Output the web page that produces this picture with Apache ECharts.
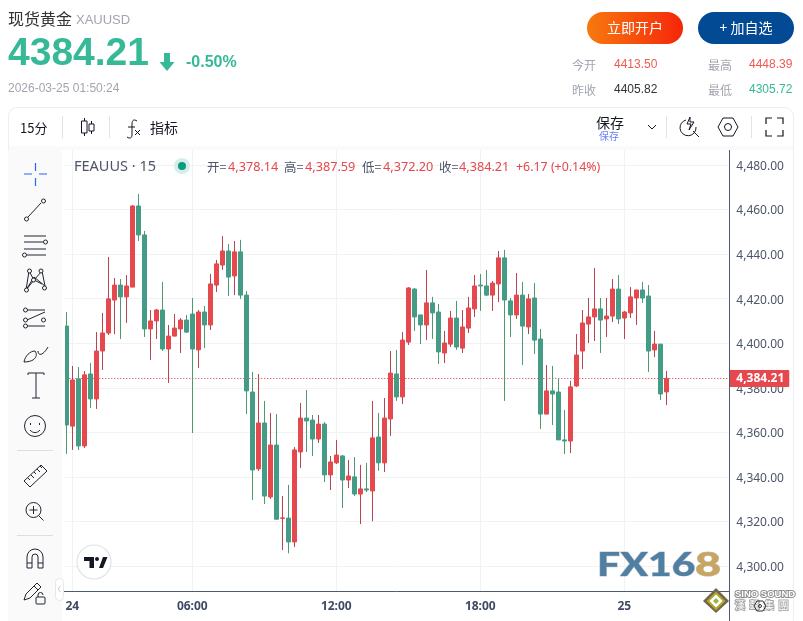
<!DOCTYPE html>
<html><head><meta charset="utf-8">
<style>html,body{margin:0;padding:0;background:#fff}#c{width:803px;height:621px}</style>
<script src="https://cdn.jsdelivr.net/npm/echarts@6/dist/echarts.min.js"></script>
</head><body><div id="c"></div>
<script>
const opens=[4407.7,4362.8,4384.0,4353.9,4386.2,4375.0,4396.5,4404.6,4419.4,4426.1,4420.8,4425.2,4461.6,4448.6,4406.4,4410.0,4414.9,4397.4,4403.2,4406.4,4410.4,4413.1,4397.0,4414.0,4408.2,4426.1,4435.1,4441.4,4430.2,4441.0,4421.6,4378.1,4343.6,4364.2,4331.0,4354.3,4321.4,4321.5,4310.8,4351.2,4366.4,4365.5,4357.0,4363.7,4340.9,4346.3,4349.4,4338.6,4340.0,4332.3,4334.6,4333.7,4357.9,4346.3,4366.0,4386.2,4375.9,4400.5,4424.3,4412.7,4408.2,4418.1,4414.0,4395.6,4399.6,4411.3,4397.8,4406.8,4415.4,4426.1,4425.7,4421.6,4426.6,4438.3,4419.0,4412.7,4421.6,4407.3,4420.3,4401.9,4368.2,4378.6,4378.1,4356.6,4356.1,4380.8,4396.5,4408.6,4411.8,4415.4,4410.9,4412.2,4424.3,4411.3,4413.6,4420.3,4423.9,4421.2,4397.0,4399.6,4378.14];
const closes=[4363.3,4383.5,4353.9,4385.8,4375.0,4396.5,4404.6,4419.9,4426.1,4420.8,4425.7,4461.6,4448.6,4406.4,4410.0,4414.9,4397.4,4403.2,4406.8,4410.4,4405.0,4397.4,4414.0,4408.2,4426.6,4435.6,4441.4,4429.7,4441.0,4421.6,4378.6,4343.1,4364.2,4331.4,4354.3,4321.0,4321.6,4310.8,4352.1,4366.4,4365.1,4357.0,4363.7,4340.9,4346.7,4349.8,4338.6,4340.4,4332.3,4334.6,4334.1,4357.5,4346.3,4366.4,4386.6,4375.9,4401.4,4424.8,4411.8,4408.2,4418.1,4413.6,4396.1,4400.1,4411.3,4398.3,4407.3,4415.8,4425.7,4425.7,4421.6,4427.0,4438.3,4419.4,4412.7,4421.6,4407.7,4419.9,4401.4,4368.2,4378.6,4377.2,4356.6,4356.1,4380.4,4394.7,4409.1,4411.8,4415.4,4410.4,4412.2,4424.3,4410.9,4414.0,4420.8,4423.9,4420.3,4396.5,4399.6,4377.2,4384.21];
const lows=[4350.3,4352.1,4352.1,4353.0,4370.9,4370.5,4388.0,4403.7,4404.1,4401.9,4409.1,4425.2,4445.9,4402.8,4392.5,4401.9,4396.5,4382.2,4403.2,4395.6,4404.6,4359.7,4388.9,4397.8,4405.9,4423.0,4432.9,4421.2,4421.6,4419.9,4368.2,4329.6,4342.7,4327.8,4330.1,4321.0,4307.2,4305.7,4308.5,4344.0,4351.2,4349.4,4355.2,4337.7,4334.1,4345.8,4326.0,4335.0,4331.4,4318.8,4333.2,4320.1,4342.7,4342.2,4358.4,4374.1,4372.7,4399.2,4405.5,4399.6,4401.4,4401.9,4390.7,4391.1,4398.3,4397.0,4395.6,4404.6,4411.8,4414.5,4421.2,4414.5,4418.5,4374.1,4402.8,4410.9,4390.2,4404.1,4395.2,4361.5,4368.2,4363.3,4356.6,4350.3,4350.7,4380.4,4388.4,4400.1,4401.0,4395.6,4402.8,4409.5,4408.6,4401.9,4411.3,4408.2,4418.1,4387.1,4393.8,4374.5,4372.20];
const highs=[4414.0,4389.8,4389.3,4387.5,4391.1,4405.0,4413.6,4438.7,4429.3,4428.8,4430.6,4462.0,4467.0,4450.4,4414.9,4415.4,4427.5,4408.2,4413.1,4411.3,4412.7,4420.3,4414.9,4416.7,4431.1,4437.4,4448.1,4444.5,4445.9,4446.4,4423.4,4387.1,4386.2,4374.1,4368.7,4368.2,4331.4,4336.4,4353.4,4373.2,4379.0,4367.8,4367.8,4364.6,4349.4,4356.6,4349.8,4347.6,4348.9,4345.4,4346.3,4374.1,4368.7,4375.4,4396.5,4397.0,4405.0,4425.2,4424.8,4412.7,4432.9,4420.8,4417.6,4405.5,4414.5,4419.0,4414.9,4420.8,4430.6,4431.1,4432.9,4427.9,4441.4,4441.9,4420.3,4431.5,4427.5,4422.1,4427.0,4406.4,4390.2,4389.8,4384.0,4370.0,4383.1,4404.1,4414.9,4420.3,4433.8,4420.3,4420.3,4428.8,4430.6,4414.5,4425.2,4423.9,4427.5,4426.1,4405.5,4399.6,4387.59];
const timeIndex=[1,21,45,69,93];
const timeLabels=['24','06:00','12:00','18:00','25'];
const priceTicks=[4300,4320,4340,4360,4380,4400,4420,4440,4460,4480];
const lastPrice=4384.21;

const RED='#e5484d',GREEN='#459c86',RW='#b9444f',GW='#4d9a6e',TXT='#131722',GR='#a2a5b0',ICON='#1f2430';
const Z=100;
const categories=Array.from({length:111},(_,i)=>{const k=timeIndex.indexOf(i);return k>=0?timeLabels[k]:'';});
const wick=opens.map((o,i)=>[o,closes[i],lows[i],highs[i]]);
const body=opens.map((o,i)=>[o,closes[i],Math.min(o,closes[i]),Math.max(o,closes[i])]);
const fmt=v=>v.toLocaleString('en-US',{minimumFractionDigits:2,maximumFractionDigits:2});

const CJK='"Noto Sans CJK SC","Noto Sans",sans-serif';
function T(text,x,y,size,fill,o){o=o||{};const el={type:'text',silent:true,z:o.z||Z,x,y,scaleX:o.sx||1,scaleY:o.sy||1,style:{text,x:0,y:0,fill,align:o.align||'left',verticalAlign:'middle',font:(o.weight||'normal')+' '+size+'px '+(o.family||CJK)}};
 if(o.stroke){el.style.stroke=o.stroke;el.style.lineWidth=o.lw||2;}
 return el;}
let pathN=0;
function PS(d,style){const name='iconPath'+(pathN++);echarts.graphic.registerShape(name,echarts.graphic.extendPath(d,{}));return {type:name,silent:true,z:Z,shape:{},style};}
function P(d,stroke,w){return PS(d,{stroke:stroke||ICON,lineWidth:w||1,fill:'none'});}
function F(d,fill){return PS(d,{fill});}
function R(x,y,w,h,fill,r,stroke,z){return {type:'rect',silent:true,z:z||Z-1,shape:{x,y,width:w,height:h,r:r||0},style:{fill,stroke:stroke||'none',lineWidth:1}};}
function C(cx,cy,r,fill,stroke,w){return {type:'circle',silent:true,z:Z,shape:{cx,cy,r},style:{fill:fill||'none',stroke:stroke||'none',lineWidth:w||1}};}
const grad=(a,b)=>new echarts.graphic.LinearGradient(0,0,1,0,[{offset:0,color:a},{offset:1,color:b}]);
const ARIAL='"Liberation Sans",Arial,sans-serif';
const TV='"Noto Sans",sans-serif';
const gfx=[
 R(8.5,107.5,785,520,'none',9,'#eceef2',Z-2),
 R(9,146,784,4,'#fafafa',0,null,Z-1),
 R(8,150,54,471,'#fafafa',0,null,Z-1),
 R(62,150,3,441,'#ffffff',0,null,Z-1),
 T('现货黄金',8,19,16,'#333'),
 T('XAUUSD',76,20,13,GR,{family:ARIAL}),
 T('4384.21',8,54,39,'#35b997',{weight:'bold',family:ARIAL}),
 F('M164 53h6v9h4.500l-7.500 9l-7.500-9h4.500z','#35b997'),
 T('-0.50%',186,63,16,'#35b997',{weight:'bold',family:ARIAL}),
 T('2026-03-25 01:50:24',8,89,12,GR,{family:ARIAL}),
 {type:'rect',silent:true,z:Z,shape:{x:587,y:12,width:96,height:32,r:16},style:{fill:grad('#f8790f','#f5260a')}},
 R(698,12,96,32,'#034a94',16,null,Z),
 T('立即开户',635,28,14,'#fff',{align:'center'}),
 T('+ 加自选',746,28,14,'#fff',{align:'center'}),
 T('今开',572,65,12,GR),T('4413.50',614,65,12,'#ee5a52',{family:ARIAL}),
 T('最高',708,65,12,GR),T('4448.39',749,65,12,'#ee5a52',{family:ARIAL}),
 T('昨收',572,90,12,GR),T('4405.82',614,90,12,'#333',{family:ARIAL}),
 T('最低',708,90,12,GR),T('4305.72',749,90,12,'#35b997',{family:ARIAL}),
 T('15分',20,128,13,TXT),
 P('M62.500 116v22M109.500 116v22M666.500 116v22M751.500 116v22','#e0e3eb',1),
 P('M84.500 118v3M84.500 133v3M91.500 121v3M91.500 131v3M81.500 121h5.500v12h-5.500zM89 124h5v7h-5z',TXT,1),
 P('M137 121c-3-2-5-1-5 3v11c0 3-2 4-5 2M128 127h7M135 130l5 5M140 130l-5 5',TXT,1),
 T('指标',150,128,14,TXT),
 T('保存',596,123,14,TXT),
 T('保存',599,136,10,'#6a82f8'),
 P('M648 125l4 4l4-4',TXT,1),
 P('M696 127a8 8 0 1 1-10-7M690 117l-3 7h4l-2 6l5-8h-4zM693 131l6 6',TXT,1),
 P('M718 127l5-9h10l5 9l-5 9h-10z',TXT,1),C(728,127,3.500,'none',TXT,1),
 P('M766 124v-6h6M777 118h6v6M783 130v6h-6M772 136h-6v-6',TXT,1.2),
 T('FEAUUS · 15',74,167,14.500,'#4d5569',{family:TV}),
 C(182,166,8,'#d5eee8'),C(182,166,4,'#0c9981'),
 T('开=',207,167,12.500,'#4d5569'),T('4,378.14',228,167,12.700,RED,{family:TV}),
 T('高=',284,167,12.500,'#4d5569'),T('4,387.59',305,167,12.700,RED,{family:TV}),
 T('低=',362,167,12.500,'#4d5569'),T('4,372.20',383,167,12.700,RED,{family:TV}),
 T('收=',439,167,12.500,'#4d5569'),T('4,384.21',459,167,12.700,RED,{family:TV}),
 T('+6.17 (+0.14%)',516,167,12.400,RED,{family:TV}),
 P('M24 174h8M39 174h8M35.500 163v8M35.500 178v8','#2962ff',1.2),
 P('M28 217l13-14',ICON),C(26.500,219,2,'#fff',ICON),C(43.500,201,2,'#fff',ICON),
 P('M24 236h22M24 242h19M24 249h22M27 255h19',ICON),C(45.500,242,2,'#fff',ICON),C(24.500,255,2,'#fff',ICON),
 P('M26 290l3-19l5 9l8-9l3 15l-11-9zM26 290l8-10M34 280l8 4',ICON),C(26.500,290,2,'#fff',ICON),C(29.500,271,2,'#fff',ICON),C(41,271,2,'#fff',ICON),C(33.500,280,2,'#fff',ICON),C(44.500,288,2,'#fff',ICON),
 P('M27 310h18M27 326h18M27 320l18-8',ICON),C(25.500,310,2,'#fff',ICON),C(25.500,320,2,'#fff',ICON),C(25.500,326,2,'#fff',ICON),C(43.500,320,2,'#fff',ICON),
 P('M24 362c1-6 6-11 11-11c2 3 2 6-2 9c-2 1-5 2-9 2zM38 351c0 5 5 5 10-4',ICON),
 P('M28 375v-2h16v2M36 373v25M32 398h8',ICON),
 C(35,426,10.500,'none',ICON),P('M30.500 423v2M39.500 423v2M30 430c3 3.500 7 3.500 10 0',ICON),
 P('M17 450.500h36M17 535.500h36','#dcdde6',1),
 P('M24 481l17-16l6 6l-17 16zM28 478l2 2M31 475l3 3M34 472l2 2M37 469l3 3M40 466l2 2',ICON),
 C(33.500,510,7.500,'none',ICON),P('M39 516l4.500 4.500M33.500 506v8M29.500 510h8',ICON),
 P('M27 568v-11a8 8 0 0 1 16 0v11h-5v-11a3 3 0 0 0-6 0v11zM27 563h5M38 563h5',ICON),
 P('M24 600l2-6l11-11l4 4l-11 11zM34 586l4 4',ICON),R(36,597,9,7,'none',1,ICON,Z),P('M38 597v-2a2.500 2.500 0 0 1 5 0',ICON),
 R(55.500,578.500,8,22,'#ffffff',4,'#e6e7ec',Z),P('M60.500 586l-2.500 3l2.500 3','#c8c9d0',1),
 C(94,562,17,'#fff','#e0e3eb',1.2),
 F('M84 557h10v11h-4.500v-7h-5.500zM99 568l4-11h4.500l-4.500 11z','#131722'),
 C(97,559,2,'#131722'),
 T('FX16',597,565,33,'#4f7fa2',{weight:'900',family:'Lato,Roboto,sans-serif',sx:1.24,stroke:'rgba(60,80,100,0.35)',lw:1}),
 T('8',695,565,33,'#c8a661',{weight:'900',family:'Lato,Roboto,sans-serif',sx:1.36,stroke:'rgba(90,70,30,0.35)',lw:1}),
 F('M716 588l13 13l-13 12l-13-12z','#6b6750'),
 PS('M716 593l8 8l-8 8l-8-8z',{fill:'#fff',stroke:'#b7a52a',lineWidth:2}),
 F('M716 598l3 3l-3 3l-3-3z','#8dbb3c'),
 T('SINO SOUND',735,594,9.500,'#fff',{weight:'bold',family:ARIAL,stroke:'#8f8f8f',lw:2}),
 T('漢  聲  集  團',735,605,10,'#fff',{stroke:'#a8a8a8',lw:2}),
 P('M754 606l3-5h6l3 5l-3 5h-6z','#333',1),C(760,606,1.500,'none','#333',1),
 P('M729.500 150V621','#4f5a74',1),
];

const chart=echarts.init(document.getElementById('c'),null,{renderer:'canvas'});
chart.setOption({
 animation:false,
 backgroundColor:'#fff',
 graphic:{elements:gfx},
 grid:{left:63.3,top:150,width:666,height:441,show:false},
 xAxis:{type:'category',data:categories,boundaryGap:true,
  axisLine:{show:true,lineStyle:{color:'#4f5a74',width:1}},
  axisTick:{show:false,alignWithLabel:true,interval:(i)=>timeIndex.includes(i)},
  axisLabel:{show:true,interval:(i)=>timeIndex.includes(i),color:'#3f4a66',fontSize:12,fontWeight:'bold',margin:10,fontFamily:TV,hideOverlap:false},
  splitLine:{show:true,alignWithLabel:true,interval:(i)=>timeIndex.includes(i),lineStyle:{color:'#f1f2f4',width:1}}},
 yAxis:{type:'value',position:'right',min:4288.78,max:4486.73,scale:true,
  axisLine:{show:false},
  axisTick:{show:false,customValues:priceTicks},
  axisLabel:{customValues:priceTicks,formatter:v=>fmt(v),color:'#4d5569',fontSize:12,margin:7,fontFamily:TV,verticalAlign:'top',lineHeight:3},
  splitLine:{show:true,lineStyle:{color:'#f1f2f4',width:1}}},
 series:[
  {name:'wick',type:'candlestick',z:2,barWidth:1,data:wick,itemStyle:{color:RW,color0:GW,borderColor:RW,borderColor0:GW,borderWidth:1},
   markLine:{silent:true,symbol:'none',z:1,animation:false,lineStyle:{type:[1,2],color:'#c23a44',width:1},
    label:{show:true,position:'end',distance:0,formatter:()=>fmt(lastPrice),backgroundColor:'#e5484d',color:'#fff',fontSize:12,fontWeight:'bold',fontFamily:TV,padding:[3,5,2,7],borderRadius:1},
    data:[{yAxis:lastPrice}]}},
  {name:'body',type:'candlestick',z:3,barWidth:4,data:body,itemStyle:{color:RED,color0:GREEN,borderColor:RED,borderColor0:GREEN,borderWidth:1}}
 ]
});
</script></body></html>
